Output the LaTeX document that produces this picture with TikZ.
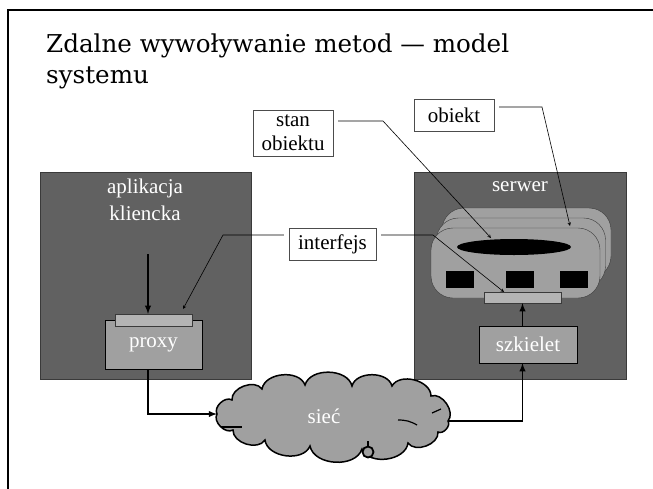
\documentclass[tikz,border=0pt]{standalone}
\usepackage{fontspec}
\newfontfamily\labelfont{Liberation Serif}
\newfontfamily\titlefont{DejaVu Serif}
\usepackage{tikz}
\usetikzlibrary{calc}
\usetikzlibrary{shapes,arrows}

\definecolor{darkfill}{HTML}{616161}
\definecolor{lightfill}{HTML}{A0A0A0}
\definecolor{barfill}{HTML}{B4B4B4}
\definecolor{edgegray}{HTML}{3A3A3A}

\tikzset{
  darkbox/.style={draw=edgegray, fill=darkfill, inner sep=0pt},
  lightbox/.style={draw=black, fill=lightfill, inner sep=0pt, text=white,
    font=\labelfont\fontsize{21}{24}\selectfont},
  ifbar/.style={draw=edgegray, fill=barfill, inner sep=0pt, minimum width=77pt, minimum height=12pt},
  objshape/.style={draw=edgegray, fill=lightfill, rounded corners=22pt, inner sep=0pt,
    minimum width=169pt, minimum height=70pt},
  method/.style={fill=black, inner sep=0pt, minimum width=28pt, minimum height=17pt},
  callout/.style={draw=black!70, fill=white, inner sep=0pt, align=center,
    font=\labelfont\fontsize{21}{24}\selectfont},
  flow/.style={line width=1.8pt, -latex},
  leader/.style={line width=0.6pt, -stealth, shorten <=5pt},
  puff/.style={bend left=75},
}

\begin{document}
\begin{tikzpicture}[x=1pt,y=-1pt]
\useasboundingbox (0,0) rectangle (653,488);
\draw[line width=1.6pt] (8,500) -- (8,10) -- (670,10);

% title
\node[anchor=base west, inner sep=0pt, font=\titlefont\fontsize{24.6}{30}\selectfont] (title1) at (46,52) {Zdalne wywoływanie metod — model};
\node[anchor=base west, inner sep=0pt, font=\titlefont\fontsize{24.6}{30}\selectfont] (title2) at (46,83) {systemu};

% client and server
\node[darkbox, minimum width=211pt, minimum height=207pt] (client) at (145.5,275.5) {};
\node[darkbox, minimum width=212pt, minimum height=207pt] (server) at (520,275.5) {};
\node[text=white, align=center, font=\labelfont\fontsize{21}{27}\selectfont] (clientname) at (145,200) {aplikacja\\kliencka};
\node[text=white, font=\labelfont\fontsize{21}{27}\selectfont] (servername) at (520,187) {serwer};

% object with its state and methods
\foreach \off/\nm in {2/back,1/middle,0/front}
  \node[objshape] (obj\nm) at (515.5+5.5*\off,263-10*\off) {};
\node[ellipse, fill=black, inner sep=0pt, minimum width=114pt, minimum height=16pt] (state) at (514,247) {};
\foreach \x/\nm in {460/a,520/b,574/c}
  \node[method] (method\nm) at (\x,279.5) {};

% proxy and skeleton
\node[lightbox, minimum width=97pt, minimum height=49pt] (proxy) at (153.5,344.5) {proxy};
\node[ifbar] (proxybar) at (153.5,320) {};
\node[lightbox, minimum width=98pt, minimum height=37pt] (skel) at (528,344.5) {szkielet};
\node[ifbar, minimum height=11pt] (skelbar) at (522.5,297.5) {};

% network
\coordinate (netwest) at (217,414);
\coordinate (neteast) at (448,421);
\draw[line width=1.5pt, fill=lightfill] (netwest) to[puff] (232,400) to[puff] (262,389)
  to[puff] (305,385) to[puff] (352,386) to[puff] (392,386) to[puff] (431,396)
  to[puff] (neteast) to[puff] (438,432) to[puff] (408,443)
  to[puff] (362,449) to[puff] (310,446) to[puff] (265,440) to[puff] (233,430)
  to[puff] cycle;
\node[text=white, font=\labelfont\fontsize{21}{24}\selectfont] (net) at (324,416) {sieć};
\draw[line width=1.2pt] (221,427) -- (242,427);
\draw[line width=1.2pt] (398,420) to[bend left=15] (417,425);
\draw[line width=1.2pt] (432,413) -- (441,409);
\draw[line width=1.2pt] (368,441) -- (368,446);
\draw[line width=1.8pt, fill=lightfill] (368,452) circle (5.5pt);

% calls
\coordinate (callin) at (148,254);
\draw[flow] (callin) -- (callin |- proxybar.north);
\draw[flow] (callin |- proxy.south) |- (netwest);
\draw[flow] (neteast) -| (skelbar |- skel.south);
\draw[flow] (skel.north -| skelbar) -- (skelbar.south);

% labels
\node[callout, minimum width=80pt, minimum height=46pt] (statelabel) at (293,133) {stan\\obiektu};
\node[callout, minimum width=80pt, minimum height=32pt] (objlabel) at (454,115) {obiekt};
\node[callout, minimum width=87pt, minimum height=32pt] (iflabel) at (332.5,244) {interfejs};

\coordinate (stanknee) at (383,121);
\coordinate (stantip) at (491,238);
\coordinate (objknee) at (542,107);
\coordinate (objtip) at (570,226);
\coordinate (ifleftknee) at (223,235);
\coordinate (iflefttip) at (183,309);
\coordinate (ifrightknee) at (433,235);
\coordinate (ifrighttip) at (504,292);

\draw[leader] (statelabel.east |- stanknee) -- (stanknee) -- (stantip);
\draw[leader] (objlabel.east |- objknee) -- (objknee) -- (objtip);
\draw[leader] (iflabel.west |- ifleftknee) -- (ifleftknee) -- (iflefttip);
\draw[leader] (iflabel.east |- ifrightknee) -- (ifrightknee) -- (ifrighttip);
\end{tikzpicture}
\end{document}
